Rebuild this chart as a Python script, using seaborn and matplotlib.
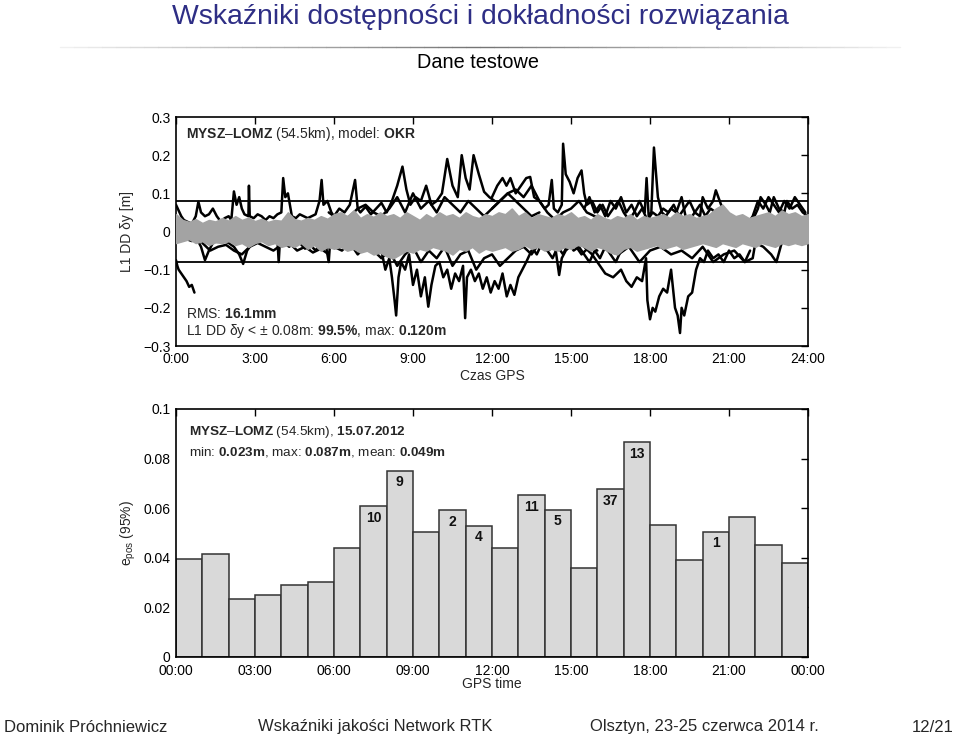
import numpy as np
import pandas as pd
import matplotlib
matplotlib.use("Agg")
import matplotlib.pyplot as plt
import seaborn as sns
from matplotlib.lines import Line2D

# ---------------- data ----------------
# bottom chart: hourly e_pos (95%)
hours = list(range(24))
epos = [0.0394, 0.0416, 0.0233, 0.0252, 0.0289, 0.0304, 0.0441, 0.0607, 0.0752, 0.0505,
        0.0591, 0.0529, 0.0441, 0.0653, 0.0594, 0.0357, 0.0676, 0.0865, 0.0534, 0.0393,
        0.0505, 0.0564, 0.0450, 0.0381]
label_idx = [7, 8, 10, 11, 13, 14, 16, 17, 20]
label_txt = ["10", "9", "2", "4", "11", "5", "37", "13", "1"]
bar_xticklabels = ["00:00", "03:00", "06:00", "09:00", "12:00", "15:00", "18:00", "21:00", "00:00"]

# top chart: gray band envelope (15-min steps, 0:00 - 24:00)
gray_t = [i * 0.25 for i in range(97)]
gray_hi = [0.045, 0.03, 0.025, 0.032, 0.022, 0.03, 0.026, 0.035, 0.028,
           0.04, 0.03, 0.036, 0.027, 0.033, 0.025, 0.03, 0.028,
           0.05, 0.032, 0.028, 0.035, 0.03, 0.04, 0.033, 0.045,
           0.05, 0.04, 0.055, 0.035, 0.045, 0.038, 0.05, 0.04,
           0.045, 0.035, 0.05, 0.04, 0.03, 0.045, 0.035, 0.05,
           0.04, 0.045, 0.035, 0.05, 0.04, 0.035, 0.045, 0.04,
           0.05, 0.045, 0.06, 0.04, 0.05, 0.035, 0.045, 0.04,
           0.035, 0.045, 0.04, 0.05, 0.035, 0.04, 0.03, 0.045,
           0.035, 0.03, 0.04, 0.035, 0.045, 0.03, 0.04, 0.035,
           0.04, 0.045, 0.035, 0.05, 0.04, 0.045, 0.035, 0.04,
           0.045, 0.06, 0.07, 0.05, 0.04, 0.045, 0.035, 0.04,
           0.045, 0.05, 0.04, 0.055, 0.045, 0.05, 0.04, 0.045]
gray_lo = [-0.03, -0.025, -0.02, -0.03, -0.025, -0.035, -0.028, -0.03, -0.025,
           -0.035, -0.03, -0.04, -0.03, -0.025, -0.035, -0.03, -0.04,
           -0.035, -0.04, -0.03, -0.045, -0.035, -0.05, -0.04, -0.045,
           -0.04, -0.05, -0.045, -0.055, -0.05, -0.06, -0.055, -0.065,
           -0.07, -0.06, -0.05, -0.055, -0.045, -0.05, -0.04, -0.045,
           -0.05, -0.06, -0.045, -0.05, -0.04, -0.055, -0.045, -0.05,
           -0.045, -0.04, -0.05, -0.045, -0.035, -0.045, -0.04, -0.05,
           -0.045, -0.05, -0.04, -0.045, -0.035, -0.04, -0.05, -0.04,
           -0.045, -0.055, -0.06, -0.045, -0.04, -0.05, -0.045, -0.04,
           -0.035, -0.045, -0.04, -0.035, -0.045, -0.04, -0.035, -0.03,
           -0.035, -0.04, -0.03, -0.035, -0.04, -0.03, -0.035, -0.04,
           -0.03, -0.035, -0.04, -0.03, -0.035, -0.03, -0.035, -0.03]

# top chart: black DD residual traces (hours, metres)
s1_t = [0.0, 0.1, 0.2, 0.3, 0.45, 0.6, 0.75, 0.85, 0.95, 1.1, 1.25, 1.4, 1.55, 1.7, 1.85, 2.0, 2.1, 2.2,
        2.3, 2.4, 2.5, 2.6, 2.75, 2.77, 2.8, 2.95, 3.1, 3.25, 3.4, 3.55, 3.7, 3.85, 4.0, 4.07, 4.15, 4.25,
        4.4, 4.55, 4.7, 4.85, 5.0, 5.15, 5.3, 5.45, 5.53, 5.6, 5.75, 5.9, 6.0]
s1_v = [0.07, 0.055, 0.04, 0.03, 0.025, 0.02, 0.04, 0.078, 0.05, 0.04, 0.045, 0.06, 0.04, 0.026, 0.035,
        0.04, 0.03, 0.105, 0.07, 0.09, 0.06, 0.045, 0.04, 0.12, 0.04, 0.035, 0.045, 0.04, 0.03, 0.04,
        0.035, 0.045, 0.05, 0.14, 0.09, 0.1, 0.04, 0.035, 0.045, 0.04, 0.035, 0.04, 0.045, 0.08, 0.135,
        0.07, 0.08, 0.05, 0.04]
s2_t = [5.8, 6.0, 6.2, 6.4, 6.6, 6.8, 6.9, 7.0, 7.2, 7.4, 7.6, 7.8, 8.0, 8.2, 8.4, 8.6, 8.75, 8.9, 9.1,
        9.3, 9.5, 9.7, 9.9, 10.1, 10.3, 10.5, 10.7, 10.85, 11.0, 11.15, 11.3, 11.5, 11.7, 11.9, 12.1]
s2_v = [0.05, 0.04, 0.06, 0.05, 0.07, 0.135, 0.06, 0.05, 0.065, 0.045, 0.06, 0.075, 0.05, 0.08, 0.12,
        0.17, 0.11, 0.07, 0.09, 0.08, 0.12, 0.07, 0.08, 0.1, 0.19, 0.12, 0.09, 0.2, 0.14, 0.11, 0.2,
        0.15, 0.104, 0.09, 0.08]
s3_t = [6.3, 6.6, 6.9, 7.2, 7.5, 7.8, 8.1, 8.4, 8.7, 9.0, 9.3, 9.6, 9.9, 10.2, 10.5, 10.8, 11.1, 11.4,
        11.7, 12.0, 12.3, 12.6, 12.9, 13.2, 13.5, 13.8]
s3_v = [0.03, 0.04, 0.06, 0.07, 0.05, 0.04, 0.06, 0.09, 0.05, 0.1, 0.06, 0.08, 0.05, 0.09, 0.07, 0.05,
        0.08, 0.06, 0.04, 0.06, 0.08, 0.1, 0.08, 0.06, 0.04, 0.05]
s4_t = [12.0, 12.2, 12.4, 12.55, 12.7, 12.9, 13.1, 13.3, 13.45, 13.6, 13.8, 14.0, 14.15, 14.27, 14.35,
        14.5, 14.65, 14.7, 14.8, 14.95, 15.1, 15.25, 15.4, 15.5, 15.6, 15.8, 16.0, 16.2, 16.4, 16.6,
        16.8, 17.0, 17.2, 17.4, 17.6, 17.8, 17.87, 17.95, 18.05, 18.15, 18.3, 18.45, 18.6, 18.8, 19.0,
        19.2, 19.35, 19.5, 19.7, 19.9, 20.0, 20.2, 20.4, 20.5, 20.7, 20.9, 21.1, 21.3, 21.5, 21.7, 21.9,
        22.1, 22.2, 22.4, 22.55, 22.7, 22.9, 23.1, 23.2, 23.4, 23.6, 23.8, 24.0]
s4_v = [0.09, 0.12, 0.14, 0.12, 0.14, 0.1, 0.12, 0.14, 0.143, 0.09, 0.08, 0.06, 0.07, 0.135, 0.06,
        0.05, 0.07, 0.23, 0.15, 0.13, 0.1, 0.14, 0.16, 0.1, 0.07, 0.08, 0.05, 0.07, 0.04, 0.06, 0.08,
        0.05, 0.03, 0.05, 0.08, 0.05, 0.14, 0.04, 0.05, 0.22, 0.09, 0.05, 0.04, 0.06, 0.05, 0.09, 0.04,
        0.03, 0.05, 0.04, 0.09, 0.06, 0.08, 0.108, 0.07, 0.05, 0.04, 0.03, 0.04, 0.02, 0.03, 0.06, 0.09,
        0.07, 0.05, 0.09, 0.06, 0.05, 0.08, 0.06, 0.07, 0.05, 0.04]
s5_t = [12.0, 12.3, 12.6, 12.9, 13.2, 13.5, 13.8, 14.1, 14.4, 14.7, 15.0, 15.3, 15.6, 15.9, 16.2]
s5_v = [0.06, 0.08, 0.1, 0.11, 0.09, 0.12, 0.08, 0.05, 0.03, 0.05, 0.06, 0.08, 0.05, 0.04, 0.03]
s6_t = [15.5, 15.7, 15.9, 16.1, 16.3, 16.5, 16.7, 16.9, 17.1, 17.3, 17.5, 17.7, 17.9, 18.1, 18.3, 18.5,
        18.7, 18.9, 19.1, 19.3, 19.5, 19.7, 19.9, 20.1, 20.3, 20.5, 20.7, 20.9, 21.1, 21.3, 21.5, 21.7,
        21.9, 22.1, 22.3, 22.5, 22.7, 22.9, 23.1, 23.3, 23.5, 23.7, 23.9]
s6_v = [0.06, 0.09, 0.05, 0.07, 0.04, 0.08, 0.06, 0.09, 0.05, 0.07, 0.04, 0.06, 0.03, 0.05, 0.04, 0.06,
        0.05, 0.07, 0.04, 0.06, 0.08, 0.05, 0.07, 0.04, 0.06, 0.05, 0.03, 0.05, 0.04, 0.02, 0.03, 0.02,
        0.04, 0.08, 0.06, 0.09, 0.07, 0.05, 0.08, 0.06, 0.09, 0.07, 0.05]
l1_t = [0.0, 0.05, 0.1, 0.2, 0.3, 0.4, 0.5, 0.6, 0.7]
l1_v = [-0.075, -0.09, -0.1, -0.11, -0.12, -0.13, -0.145, -0.14, -0.16]
l2_t = [0.0, 0.2, 0.4, 0.6, 0.8, 0.95, 1.1, 1.25, 1.4, 1.6, 1.8, 2.0, 2.2, 2.4, 2.55, 2.7, 2.9, 3.1, 3.3,
        3.5, 3.7, 3.85, 3.9, 3.95, 4.1, 4.3, 4.5, 4.7, 4.9, 5.1, 5.3, 5.5, 5.7, 5.8, 5.85, 5.9, 6.1, 6.3, 6.5]
l2_v = [-0.01, -0.015, -0.02, -0.025, -0.02, -0.04, -0.075, -0.05, -0.03, -0.02, -0.025, -0.03, -0.04,
        -0.06, -0.085, -0.05, -0.03, -0.02, -0.015, -0.025, -0.03, -0.02, -0.08, -0.02, -0.03, -0.04,
        -0.025, -0.03, -0.045, -0.035, -0.05, -0.03, -0.04, -0.08, -0.03, -0.035, -0.04, -0.03, -0.025]
l3_t = [1.0, 1.3, 1.6, 1.9, 2.2, 2.5, 2.8, 3.1, 3.4, 3.7, 4.0, 4.3, 4.6, 4.9, 5.2, 5.5, 5.8]
l3_v = [-0.03, -0.05, -0.04, -0.035, -0.05, -0.06, -0.04, -0.03, -0.04, -0.05, -0.035, -0.03, -0.05,
        -0.04, -0.055, -0.045, -0.06]
l4_t = [7.8, 7.95, 8.1, 8.2, 8.3, 8.36, 8.45, 8.55, 8.7, 8.85, 9.0, 9.15, 9.3, 9.45, 9.58, 9.7, 9.85,
        10.0, 10.15, 10.3, 10.45, 10.6, 10.75, 10.9, 10.98, 11.05, 11.2, 11.35, 11.5, 11.65, 11.8,
        11.95, 12.1, 12.25, 12.4, 12.56, 12.7, 12.85, 13.0, 13.15, 13.3, 13.5]
l4_v = [-0.05, -0.1, -0.07, -0.12, -0.18, -0.22, -0.12, -0.08, -0.1, -0.06, -0.14, -0.1, -0.17, -0.12,
        -0.197, -0.14, -0.09, -0.08, -0.12, -0.1, -0.15, -0.11, -0.13, -0.09, -0.227, -0.12, -0.1,
        -0.13, -0.11, -0.15, -0.12, -0.16, -0.13, -0.15, -0.11, -0.17, -0.14, -0.166, -0.12, -0.1,
        -0.08, -0.05]
l5_t = [6.0, 6.3, 6.6, 6.9, 7.2, 7.5, 7.8, 8.1, 8.4, 8.7, 9.0, 9.3, 9.6, 9.9, 10.2, 10.5, 10.8, 11.1,
        11.4, 11.7, 12.0, 12.3, 12.6, 12.9, 13.2, 13.5, 13.8, 14.1, 14.4, 14.55, 14.65, 14.8, 15.1,
        15.4, 15.7, 16.0]
l5_v = [-0.04, -0.05, -0.03, -0.06, -0.04, -0.05, -0.07, -0.05, -0.09, -0.06, -0.04, -0.08, -0.05,
        -0.07, -0.04, -0.09, -0.06, -0.05, -0.1, -0.07, -0.06, -0.09, -0.07, -0.05, -0.04, -0.06,
        -0.03, -0.05, -0.04, -0.114, -0.07, -0.05, -0.03, -0.06, -0.04, -0.05]
l6_t = [15.5, 15.8, 16.1, 16.3, 16.6, 16.9, 17.1, 17.3, 17.5, 17.7, 17.85, 17.9, 18.0, 18.1, 18.2,
        18.35, 18.5, 18.65, 18.8, 18.95, 19.05, 19.14, 19.2, 19.3, 19.45, 19.6, 19.75, 19.9, 20.05,
        20.2, 20.4, 20.6, 20.8, 21.0, 21.2, 21.4, 21.6, 21.8]
l6_v = [-0.04, -0.06, -0.09, -0.11, -0.12, -0.1, -0.13, -0.145, -0.12, -0.13, -0.07, -0.18, -0.23,
        -0.2, -0.21, -0.17, -0.15, -0.16, -0.1, -0.2, -0.22, -0.266, -0.2, -0.22, -0.17, -0.16, -0.1,
        -0.07, -0.08, -0.05, -0.07, -0.06, -0.08, -0.05, -0.07, -0.06, -0.08, -0.05]
l7_t = [16.0, 16.4, 16.8, 17.2, 17.6, 18.0, 18.4, 18.8, 19.2, 19.6, 20.0, 20.4, 20.8, 21.2, 21.6,
        21.9, 22.0, 22.3, 22.6, 22.8, 23.0, 23.3, 23.6, 23.8, 24.0]
l7_v = [-0.03, -0.05, -0.06, -0.04, -0.08, -0.05, -0.04, -0.06, -0.05, -0.07, -0.04, -0.08, -0.06,
        -0.05, -0.08, -0.07, -0.03, -0.04, -0.06, -0.08, -0.03, -0.02, -0.03, -0.02, -0.01]
l8_t = [13.5, 13.7, 13.9, 14.1, 14.3, 14.5, 14.7, 14.9, 15.1, 15.3, 15.5, 15.7, 15.9, 16.1, 16.3, 16.5,
        16.7, 16.9, 17.1]
l8_v = [-0.04, -0.06, -0.03, -0.05, -0.07, -0.04, -0.06, -0.03, -0.05, -0.04, -0.06, -0.08, -0.05,
        -0.07, -0.04, -0.06, -0.08, -0.05, -0.04]
threshold = 0.08
top_xticks = [0, 3, 6, 9, 12, 15, 18, 21, 24]
top_xticklabels = ["0:00", "3:00", "6:00", "9:00", "12:00", "15:00", "18:00", "21:00", "24:00"]
top_yticks = [-0.3, -0.2, -0.1, 0, 0.1, 0.2, 0.3]
top_yticklabels = ["\u22120.3", "\u22120.2", "\u22120.1", "0", "0.1", "0.2", "0.3"]
bot_yticks = [0, 0.02, 0.04, 0.06, 0.08, 0.1]
bot_yticklabels = ["0", "0.02", "0.04", "0.06", "0.08", "0.1"]

black_series = [(s1_t, s1_v), (s2_t, s2_v), (s3_t, s3_v), (s4_t, s4_v), (s5_t, s5_v), (s6_t, s6_v),
                (l1_t, l1_v), (l2_t, l2_v), (l3_t, l3_v), (l4_t, l4_v), (l5_t, l5_v),
                (l6_t, l6_v), (l7_t, l7_v), (l8_t, l8_v)]

# ---------------- style ----------------
sns.set_theme(style="white")
plt.rcParams["font.family"] = ["Liberation Sans", "DejaVu Sans"]
plt.rcParams["mathtext.fontset"] = "custom"
plt.rcParams["mathtext.rm"] = "Liberation Sans"
plt.rcParams["mathtext.bf"] = "Liberation Sans:bold"
plt.rcParams["mathtext.it"] = "Liberation Sans:italic"

W, H = 960, 743
fig = plt.figure(figsize=(9.6, 7.43), dpi=100)


def fx(px):
    return px / W


def fy(py):
    return 1 - py / H


def style_axes(ax):
    for sp in ax.spines.values():
        sp.set_color("black")
        sp.set_linewidth(1.2)
    ax.tick_params(direction="in", length=5, width=1, top=True, right=True,
                   colors="black", labelsize=10, pad=4)


DASH = "\u2013"

# ---------------- top chart ----------------
ax1 = fig.add_axes([fx(176), fy(346), fx(632), 229 / H])
for t, v in black_series:
    sns.lineplot(x=t, y=v, color="black", lw=1.8, ax=ax1, sort=False, estimator=None)
ax1.fill_between(gray_t, gray_lo, gray_hi, color="#a3a3a3", lw=1.2, edgecolor="#a3a3a3", zorder=3)
ax1.axhline(threshold, color="black", lw=1.3, zorder=4)
ax1.axhline(-threshold, color="black", lw=1.3, zorder=4)
ax1.set_xlim(0, 24)
ax1.set_ylim(-0.3, 0.3)
ax1.set_xticks(top_xticks)
ax1.set_xticklabels(top_xticklabels)
ax1.set_yticks(top_yticks)
ax1.set_yticklabels(top_yticklabels)
style_axes(ax1)
ax1.set_xlabel("Czas GPS", fontsize=10)
ax1.set_ylabel("L1 DD \u03b4y [m]", fontsize=10)
ax1.xaxis.set_label_coords(0.5, -0.1)
ax1.yaxis.set_label_coords(-0.066, 0.5)

fig.text(fx(186), fy(134), "$\\mathbf{MYSZ}$" + DASH + "$\\mathbf{LOMZ}$ (54.5km), model: $\\mathbf{OKR}$",
         fontsize=10, va="center", ha="left")
fig.text(fx(186), fy(314), "RMS: $\\mathbf{16.1mm}$", fontsize=10, va="center", ha="left")
fig.text(fx(186), fy(331), "L1 DD \u03b4y < \u00b1 0.08m: $\\mathbf{99.5\\%}$, max: $\\mathbf{0.120m}$",
         fontsize=10, va="center", ha="left")

# ---------------- bottom chart ----------------
ax2 = fig.add_axes([fx(176), fy(657), fx(632), 248 / H])
sns.barplot(x=hours, y=epos, color="#d9d9d9", edgecolor="#333333", linewidth=1.1,
            saturation=1, width=1, ax=ax2)
for i, txt in zip(label_idx, label_txt):
    ax2.text(i, epos[i] - 0.0047, txt, ha="center", va="center", fontsize=10,
             fontweight="bold", color="#111111")
ax2.set_xlim(-0.5, 23.5)
ax2.set_ylim(0, 0.1)
ax2.set_xticks([-0.5 + 3 * k for k in range(9)])
ax2.set_xticklabels(bar_xticklabels)
ax2.set_yticks(bot_yticks)
ax2.set_yticklabels(bot_yticklabels)
style_axes(ax2)
ax2.tick_params(axis="x", pad=5)
ax2.set_xlabel("GPS time", fontsize=10)
ax2.set_ylabel("e$_{\\mathrm{pos}}$ (95%)", fontsize=10)
ax2.xaxis.set_label_coords(0.5, -0.08)
ax2.yaxis.set_label_coords(-0.06, 0.5)

fig.text(fx(189), fy(432), "$\\mathbf{MYSZ}$" + DASH + "$\\mathbf{LOMZ}$ (54.5km), $\\mathbf{15.07.2012}$",
         fontsize=9.7, va="center", ha="left")
fig.text(fx(189), fy(452), "min: $\\mathbf{0.023m}$, max: $\\mathbf{0.087m}$, mean: $\\mathbf{0.049m}$",
         fontsize=9.7, va="center", ha="left")

# ---------------- slide decorations ----------------
fig.text(0.5, fy(17), "Wska\u017aniki dost\u0119pno\u015bci i dok\u0142adno\u015bci rozwi\u0105zania",
         ha="center", va="center", fontsize=20.4, color="#2e2e85")
nseg = 60
x0, x1 = 60, 900
for k in range(nseg):
    a = x0 + (x1 - x0) * k / nseg
    b = x0 + (x1 - x0) * (k + 1) / nseg
    d = abs((k + 0.5) / nseg - 0.5) * 2
    g = 0.45 + 0.5 * d
    fig.add_artist(Line2D([fx(a), fx(b)], [fy(47), fy(47)], color=(g, g, g), lw=1.0))
fig.text(fx(478), fy(63), "Dane testowe", ha="center", va="center", fontsize=14.3, color="black")

fy_foot = fy(727)
fig.text(fx(4), fy_foot, "Dominik Pr\u00f3chniewicz", ha="left", va="center", fontsize=12)
fig.text(fx(258), fy_foot, "Wska\u017aniki jako\u015bci Network RTK", ha="left", va="center", fontsize=12)
fig.text(fx(590), fy_foot, "Olsztyn, 23-25 czerwca 2014 r.", ha="left", va="center", fontsize=12)
fig.text(fx(954), fy_foot, "12/21", ha="right", va="center", fontsize=12)

fig.savefig("out.png", dpi=100)
